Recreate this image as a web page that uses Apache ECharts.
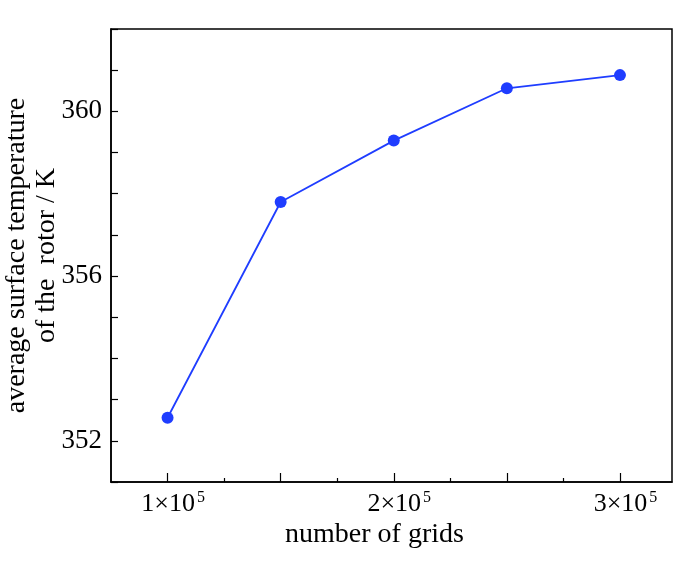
<!DOCTYPE html>
<html>
<head>
<meta charset="utf-8">
<script src="https://cdn.jsdelivr.net/npm/echarts@6/dist/echarts.min.js"></script>
<style>
  html, body { margin: 0; padding: 0; background: #fff; }
  #main { width: 700px; height: 569px; }
</style>
</head>
<body>
<div id="main"></div>
<script>
// grid counts, in units of 1e5
var gridCounts = [1, 1.5, 2, 2.5, 3];
// average surface temperature of the rotor, K
var rotorTemps = [352.56, 357.8, 359.29, 360.56, 360.88];
var xLabelValues = [1, 2, 3];
var yLabelValues = [352, 356, 360];
var xMajorTicks = [1, 1.5, 2, 2.5, 3];
var xMinorTicks = [1.25, 1.75, 2.25, 2.75];

var FONT = '"Liberation Serif", "Times New Roman", serif';
var BLUE = '#1f3dff';

var myChart = echarts.init(document.getElementById('main'));

var points = [];
for (var i = 0; i < gridCounts.length; i++) {
    points.push([gridCounts[i], rotorTemps[i]]);
}

var option = {
    backgroundColor: '#fff',
    animation: false,
    grid: {
        left: 111, right: 28, top: 29, bottom: 87,
        show: true, borderColor: '#000', borderWidth: 1.5,
        containLabel: false,
        outerBoundsMode: 'none'
    },
    xAxis: [{
        type: 'value',
        min: 0.75, max: 3.23,
        interval: 0.25,
        axisLine: { show: true, lineStyle: { color: '#000', width: 1.5 } },
        axisTick: { show: true, inside: true, length: 9, customValues: xMajorTicks,
            lineStyle: { color: '#000', width: 1.2 } },
        splitLine: { show: false },
        axisLabel: {
            customValues: xLabelValues,
            margin: 8,
            formatter: function (v) { return '{a|' + v + '×10}{b|5}'; },
            rich: {
                a: { fontFamily: FONT, fontSize: 26, color: '#000', padding: [0, 0, 0, 11] },
                b: { fontFamily: FONT, fontSize: 16, color: '#000', verticalAlign: 'top', padding: [0, 0, 12, 2] }
            }
        },
        name: 'number of grids',
        nameLocation: 'middle',
        nameGap: 39,
        nameMoveOverlap: false,
        nameTextStyle: { fontFamily: FONT, fontSize: 28, color: '#000', padding: [0, 34, 0, 0] }
    }, {
        type: 'value',
        position: 'bottom',
        min: 0.75, max: 3.23,
        interval: 0.25,
        axisLine: { show: false },
        axisTick: { show: true, inside: true, length: 4, customValues: xMinorTicks,
            lineStyle: { color: '#000', width: 1.2 } },
        splitLine: { show: false },
        axisLabel: { show: false }
    }],
    yAxis: {
        type: 'value',
        min: 351, max: 362,
        interval: 1,
        axisLine: { show: true, lineStyle: { color: '#000', width: 1.5 } },
        axisTick: { show: true, inside: true, length: 7, lineStyle: { color: '#000', width: 1.2 } },
        splitLine: { show: false },
        axisLabel: {
            customValues: yLabelValues,
            margin: 9,
            fontFamily: FONT, fontSize: 27, color: '#000'
        },
        name: 'average surface temperature\nof the  rotor / K',
        nameLocation: 'middle',
        nameGap: 49,
        nameMoveOverlap: false,
        nameTextStyle: { fontFamily: FONT, fontSize: 28, color: '#000', lineHeight: 30, align: 'center' }
    },
    series: [{
        type: 'line',
        xAxisIndex: 0,
        data: points,
        symbol: 'circle',
        symbolSize: 12,
        itemStyle: { color: BLUE },
        lineStyle: { color: BLUE, width: 1.8 }
    }]
};

myChart.setOption(option);
window.addEventListener('resize', function () {
    myChart.resize();
});
</script>
</body>
</html>
